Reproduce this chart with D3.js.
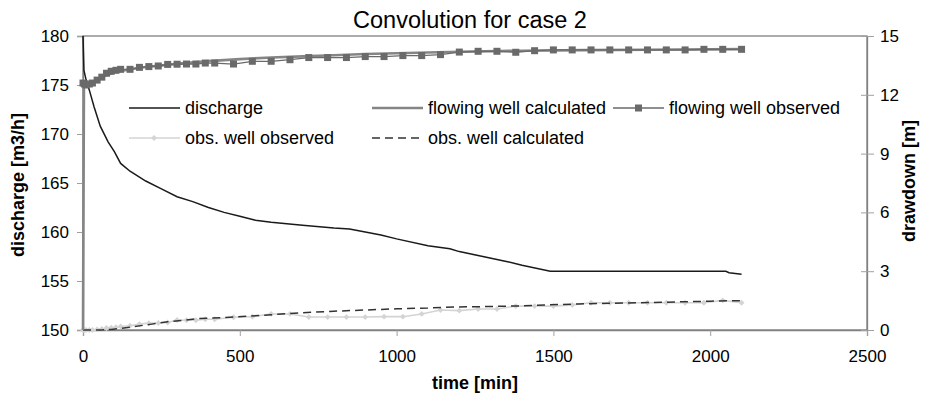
<!DOCTYPE html>
<html>
<head>
<meta charset="utf-8">
<script src="https://cdn.jsdelivr.net/npm/d3@7"></script>
<style>
  body { margin: 0; background: #fff; }
  svg { font-family: Arial, "Liberation Sans", sans-serif; }
</style>
</head>
<body>
<figure id="chart" style="margin:0"></figure>
<script>
// ---- data ----
const title = "Convolution for case 2";

// discharge [m3/h], left axis
const dischargeTime = [0, 3, 10, 20, 35, 55, 80, 100, 120, 150, 200, 250, 300, 350, 400, 450, 500, 550, 600, 700, 800, 850, 900, 950, 1000, 1100, 1170, 1200, 1275, 1350, 1400, 1490, 2050, 2060, 2100];
const discharge = [180, 176.5, 175.5, 174.5, 172.8, 170.8, 169.2, 168.2, 167, 166.2, 165.2, 164.4, 163.6, 163.1, 162.5, 162.0, 161.6, 161.2, 161.0, 160.7, 160.4, 160.3, 160.0, 159.7, 159.3, 158.6, 158.3, 158.0, 157.5, 157.0, 156.6, 156.0, 156.0, 155.85, 155.7];

// flowing well calculated drawdown [m], right axis
const flowCalcTime = [0, 3, 10, 30, 60, 100, 150, 200, 300, 400, 500, 600, 700, 800, 900, 1000, 1200, 1400, 1600, 1800, 2000, 2100];
const flowCalc = [0, 12.45, 12.5, 12.6, 12.9, 13.15, 13.3, 13.42, 13.58, 13.72, 13.82, 13.9, 13.96, 14.02, 14.08, 14.12, 14.2, 14.25, 14.28, 14.3, 14.32, 14.33];

// observation times shared by the measured series
const obsTime = [0, 5, 10, 20, 30, 45, 60, 75, 90, 105, 120, 150, 180, 210, 240, 270, 300, 330, 360, 390, 420, 480, 540, 600, 660, 720, 780, 840, 900, 960, 1020, 1080, 1140, 1200, 1260, 1320, 1380, 1440, 1500, 1560, 1620, 1680, 1740, 1800, 1860, 1920, 1980, 2040, 2100];
const flowObserved = [12.6, 12.55, 12.5, 12.55, 12.6, 12.75, 12.9, 13.1, 13.2, 13.25, 13.3, 13.3, 13.4, 13.44, 13.47, 13.55, 13.56, 13.57, 13.57, 13.62, 13.62, 13.57, 13.71, 13.71, 13.79, 13.9, 13.9, 13.9, 13.95, 13.95, 14.0, 14.0, 14.05, 14.18, 14.22, 14.22, 14.17, 14.25, 14.29, 14.29, 14.29, 14.29, 14.29, 14.29, 14.29, 14.29, 14.32, 14.32, 14.32];
const obsObserved = [0, 0, 0, 0, 0, 0.03, 0.05, 0.1, 0.12, 0.14, 0.18, 0.22, 0.3, 0.35, 0.36, 0.38, 0.51, 0.5, 0.5, 0.55, 0.55, 0.65, 0.68, 0.82, 0.82, 0.66, 0.66, 0.66, 0.66, 0.68, 0.68, 0.82, 1.02, 0.99, 1.07, 1.07, 1.22, 1.22, 1.22, 1.28, 1.39, 1.39, 1.39, 1.39, 1.39, 1.39, 1.39, 1.51, 1.39];

// obs. well calculated drawdown [m]
const obsCalcTime = [0, 60, 90, 120, 160, 220, 270, 370, 480, 590, 700, 800, 900, 1000, 1100, 1150, 1370, 1580, 1800, 2000, 2100];
const obsCalc = [0, 0, 0.03, 0.08, 0.17, 0.3, 0.42, 0.58, 0.66, 0.77, 0.88, 0.96, 1.02, 1.08, 1.12, 1.16, 1.22, 1.33, 1.4, 1.47, 1.5];

const xTicks = [0, 500, 1000, 1500, 2000, 2500];
const leftTicks = [150, 155, 160, 165, 170, 175, 180];
const rightTicks = [0, 3, 6, 9, 12, 15];

// ---- layout ----
const width = 930, height = 395;
const plot = { left: 83, right: 867, top: 36, bottom: 330 };
const axisGrey = "#808080";

const svg = d3.select("#chart").append("svg")
  .attr("width", width)
  .attr("height", height);

const x = d3.scaleLinear().domain([0, 2500]).range([plot.left, plot.right]);
const yL = d3.scaleLinear().domain([150, 180]).range([plot.bottom, plot.top]);
const yR = d3.scaleLinear().domain([0, 15]).range([plot.bottom, plot.top]);

// plot frame
svg.append("rect")
  .attr("x", plot.left).attr("y", plot.top)
  .attr("width", plot.right - plot.left).attr("height", plot.bottom - plot.top)
  .attr("fill", "none").attr("stroke", axisGrey).attr("stroke-width", 1.3);

// axes
const xAxis = svg.append("g")
  .attr("transform", "translate(0," + plot.bottom + ")")
  .call(d3.axisBottom(x).tickValues(xTicks).tickFormat(d3.format("d")).tickSize(6).tickPadding(14));

const leftAxis = svg.append("g")
  .attr("transform", "translate(" + plot.left + ",0)")
  .call(d3.axisLeft(yL).tickValues(leftTicks).tickSize(6).tickPadding(8));

const rightAxis = svg.append("g")
  .attr("transform", "translate(" + plot.right + ",0)")
  .call(d3.axisRight(yR).tickValues(rightTicks).tickSizeInner(7).tickSizeOuter(0).tickPadding(6));
rightAxis.selectAll(".tick line").attr("x1", -6);

[xAxis, leftAxis, rightAxis].forEach(a => {
  a.select(".domain").attr("stroke", axisGrey).attr("stroke-width", 1.3);
  a.selectAll(".tick line").attr("stroke", "#a0a0a0");
  a.selectAll(".tick text").attr("fill", "#000").style("font-size", "17px");
});

// series
const lineL = d3.line().x(d => x(d[0])).y(d => yL(d[1]));
const lineR = d3.line().x(d => x(d[0])).y(d => yR(d[1]));

const zip = (t, v) => t.map((tt, i) => [tt, v[i]]);

// obs. well observed (light grey, diamonds)
svg.append("path")
  .datum(zip(obsTime, obsObserved))
  .attr("fill", "none").attr("stroke", "#d4d4d4").attr("stroke-width", 1.6)
  .attr("d", lineR);
svg.append("g").selectAll("path")
  .data(zip(obsTime, obsObserved))
  .join("path")
  .attr("d", d3.symbol(d3.symbolDiamond2, 22))
  .attr("transform", d => "translate(" + x(d[0]) + "," + yR(d[1]) + ")")
  .attr("fill", "#d4d4d4");

// obs. well calculated (dashed)
svg.append("path")
  .datum(zip(obsCalcTime, obsCalc))
  .attr("fill", "none").attr("stroke", "#333").attr("stroke-width", 1.5)
  .attr("stroke-dasharray", "8,5")
  .attr("d", lineR);

// discharge
svg.append("path")
  .datum(zip(dischargeTime, discharge))
  .attr("fill", "none").attr("stroke", "#1a1a1a").attr("stroke-width", 1.5)
  .attr("d", lineL);

// flowing well calculated
svg.append("path")
  .datum(zip(flowCalcTime, flowCalc))
  .attr("fill", "none").attr("stroke", "#858585").attr("stroke-width", 2.6)
  .attr("d", lineR);

// flowing well observed (squares)
svg.append("path")
  .datum(zip(obsTime, flowObserved))
  .attr("fill", "none").attr("stroke", "#6a6a6a").attr("stroke-width", 1.3)
  .attr("d", lineR);
svg.append("g").selectAll("rect")
  .data(zip(obsTime, flowObserved))
  .join("rect")
  .attr("x", d => x(d[0]) - 3.5).attr("y", d => yR(d[1]) - 3.5)
  .attr("width", 7).attr("height", 7)
  .attr("fill", "#6a6a6a");

// title and axis labels
svg.append("text")
  .attr("x", 470).attr("y", 28)
  .attr("text-anchor", "middle")
  .style("font-size", "23.5px")
  .text(title);

svg.append("text")
  .attr("x", (plot.left + plot.right) / 2).attr("y", 389)
  .attr("text-anchor", "middle")
  .style("font-size", "18px").style("font-weight", "bold")
  .text("time [min]");

svg.append("text")
  .attr("transform", "translate(24," + 185 + ")rotate(-90)")
  .attr("text-anchor", "middle")
  .style("font-size", "18px").style("font-weight", "bold")
  .text("discharge [m3/h]");

svg.append("text")
  .attr("transform", "translate(915," + 181 + ")rotate(-90)")
  .attr("text-anchor", "middle")
  .style("font-size", "18px").style("font-weight", "bold")
  .text("drawdown [m]");

// legend
const legendItems = [
  { label: "discharge", col: 0, row: 0, stroke: "#1a1a1a", sw: 1.5 },
  { label: "flowing well calculated", col: 1, row: 0, stroke: "#858585", sw: 2.6 },
  { label: "flowing well observed", col: 2, row: 0, stroke: "#6a6a6a", sw: 1.3, marker: "square" },
  { label: "obs. well observed", col: 0, row: 1, stroke: "#d4d4d4", sw: 1.6, marker: "diamond" },
  { label: "obs. well calculated", col: 1, row: 1, stroke: "#333", sw: 1.5, dash: "8,5" }
];
const colX = [129, 372, 613];
const rowY = [108, 138];

const legend = svg.append("g");
legendItems.forEach(it => {
  const lx = colX[it.col], ly = rowY[it.row];
  const g = legend.append("g");
  g.append("line")
    .attr("x1", lx).attr("x2", lx + 51).attr("y1", ly).attr("y2", ly)
    .attr("stroke", it.stroke).attr("stroke-width", it.sw)
    .attr("stroke-dasharray", it.dash || null);
  if (it.marker === "square") {
    g.append("rect").attr("x", lx + 22).attr("y", ly - 3.5)
      .attr("width", 7).attr("height", 7).attr("fill", it.stroke);
  } else if (it.marker === "diamond") {
    g.append("path").attr("d", d3.symbol(d3.symbolDiamond2, 22))
      .attr("transform", "translate(" + (lx + 25) + "," + ly + ")")
      .attr("fill", it.stroke);
  }
  g.append("text")
    .attr("x", lx + 56).attr("y", ly).attr("dy", "0.35em")
    .style("font-size", "18px")
    .text(it.label);
});
</script>
</body>
</html>
